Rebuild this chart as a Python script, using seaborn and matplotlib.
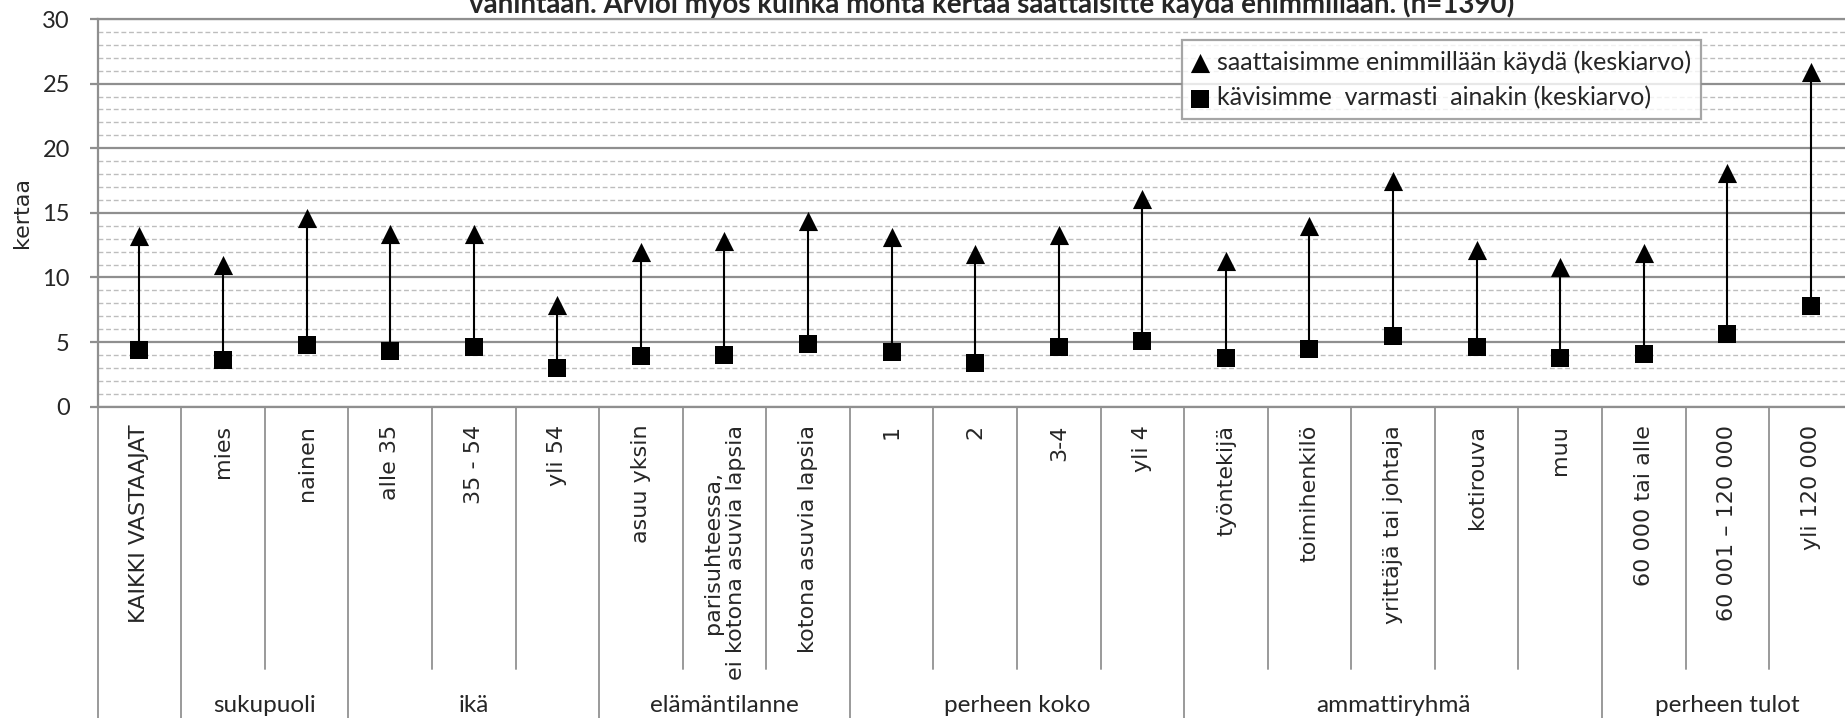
import matplotlib
matplotlib.use("Agg")
import matplotlib.pyplot as plt
from matplotlib.lines import Line2D
import seaborn as sns
import numpy as np
import pandas as pd

# --- data ---
categories = ["KAIKKI VASTAAJAT", "mies", "nainen", "alle 35", "35 - 54", "yli 54",
              "asuu yksin", "parisuhteessa,\nei kotona asuvia lapsia", "kotona asuvia lapsia",
              "1", "2", "3-4", "yli 4",
              "työntekijä", "toimihenkilö", "yrittäjä tai johtaja", "kotirouva", "muu",
              "60 000 tai alle", "60 001 – 120 000", "yli 120 000"]
max_vals = [13.2, 11.0, 14.6, 13.4, 13.4, 7.9, 12.0, 12.8, 14.4, 13.1, 11.8, 13.3, 16.1,
            11.3, 14.0, 17.5, 12.1, 10.8, 11.9, 18.1, 25.9]
min_vals = [4.4, 3.6, 4.8, 4.3, 4.6, 3.0, 3.9, 4.0, 4.85, 4.26, 3.4, 4.64, 5.1,
            3.8, 4.5, 5.5, 4.64, 3.8, 4.05, 5.6, 7.8]
groups = ["", "sukupuoli", "ikä", "elämäntilanne", "perheen koko", "ammattiryhmä", "perheen tulot"]
group_sizes = [1, 2, 3, 3, 4, 5, 3]

title = "vähintään. Arvioi myös kuinka monta kertaa saattaisitte käydä enimmillään. (n=1390)"
max_label = "saattaisimme enimmillään käydä (keskiarvo)"
min_label = "kävisimme  varmasti  ainakin (keskiarvo)"

df = pd.DataFrame({"pos": np.arange(len(categories)), "cat": categories,
                   "max": max_vals, "min": min_vals})

sns.set_style("white")
plt.rcParams["font.family"] = ["DejaVu Sans"]
CAL = "Lato"

W, H = 1845, 718
fig = plt.figure(figsize=(W / 100, H / 100), dpi=100)
ax_left, ax_top, ax_bot = 97.7, 19.0, 406.7
cat_w = 83.57
ax = fig.add_axes([ax_left / W, 1 - ax_bot / H, cat_w * len(categories) / W, (ax_bot - ax_top) / H])

# gridlines
ax.set_ylim(0, 30)
ax.set_xlim(-0.5, len(categories) - 0.5)
ax.set_yticks(np.arange(0, 31, 5))
ax.set_yticks(np.arange(0, 31, 1), minor=True)
ax.grid(axis="y", which="major", color="#8f8f8f", lw=1.6, zorder=0)
ax.grid(axis="y", which="minor", color="#bdbdbd", lw=1.0, ls=(0, (3.5, 2)), zorder=0)
ax.grid(axis="x", visible=False)
ax.set_axisbelow(True)

# connecting lines (drawn under the markers)
ax.vlines(df["pos"], df["min"], df["max"], color="black", lw=1.5, zorder=2)

sns.scatterplot(data=df, x="pos", y="max", marker="^", s=190, color="black",
                edgecolor="black", linewidth=0, ax=ax, zorder=3, label=max_label)
sns.scatterplot(data=df, x="pos", y="min", marker="s", s=160, color="black",
                edgecolor="black", linewidth=0, ax=ax, zorder=3, label=min_label)

# axes styling
for side in ["left", "top", "bottom"]:
    ax.spines[side].set_visible(True)
    ax.spines[side].set_color("#8f8f8f")
    ax.spines[side].set_linewidth(1.6)
ax.spines["right"].set_visible(False)
ax.tick_params(axis="y", which="major", length=6, width=1.6, color="#8f8f8f",
               pad=14, left=True, labelsize=17)
ax.tick_params(axis="y", which="minor", length=0)
for lab in ax.get_yticklabels():
    lab.set_family(CAL)
ax.set_ylabel("")
ax.set_xlabel("")
ax.set_xticks(df["pos"])
ax.set_xticklabels(df["cat"], rotation=90, va="top", ha="center",
                   multialignment="center", fontsize=16)
ax.tick_params(axis="x", length=0, pad=13)

fig.text(22 / W, 1 - 213 / H, "kertaa", rotation=90, ha="center", va="center", fontsize=16)

# category separators and group labels below the axis
trans = ax.get_xaxis_transform()
span = ax_bot - ax_top
y_inner = -(669 - ax_bot) / span
y_full = -(H - ax_bot) / span
y_glabel = -(712 - ax_bot) / span
bounds = np.cumsum([0] + group_sizes) - 0.5
group_edges = set(np.round(bounds, 1))
for b in np.arange(-0.5, len(categories), 1.0):
    yend = y_full if round(b, 1) in group_edges else y_inner
    ax.add_line(Line2D([b, b], [0, yend], transform=trans, color="#9a9a9a",
                       lw=1.4, clip_on=False))
for g, lo, hi in zip(groups, bounds[:-1], bounds[1:]):
    if g:
        ax.text((lo + hi) / 2, y_glabel, g, transform=trans, ha="center",
                va="baseline", fontsize=17.5, family=CAL)

# legend
leg = ax.legend(loc="upper left", bbox_to_anchor=(1182 / W, 1 - 40 / H),
                bbox_transform=fig.transFigure, borderaxespad=0, frameon=True,
                fancybox=False, handlelength=0.6, handletextpad=0.4,
                borderpad=0.4, labelspacing=0.5, markerscale=1.0,
                prop={"family": CAL, "size": 18})
leg.get_frame().set_edgecolor("#8f8f8f")
leg.get_frame().set_linewidth(1.6)

fig.text(992 / W, 1 - 12.5 / H, title, ha="center", va="baseline",
         fontsize=20, fontweight="bold", family=CAL)

fig.savefig("out.png", dpi=100)
